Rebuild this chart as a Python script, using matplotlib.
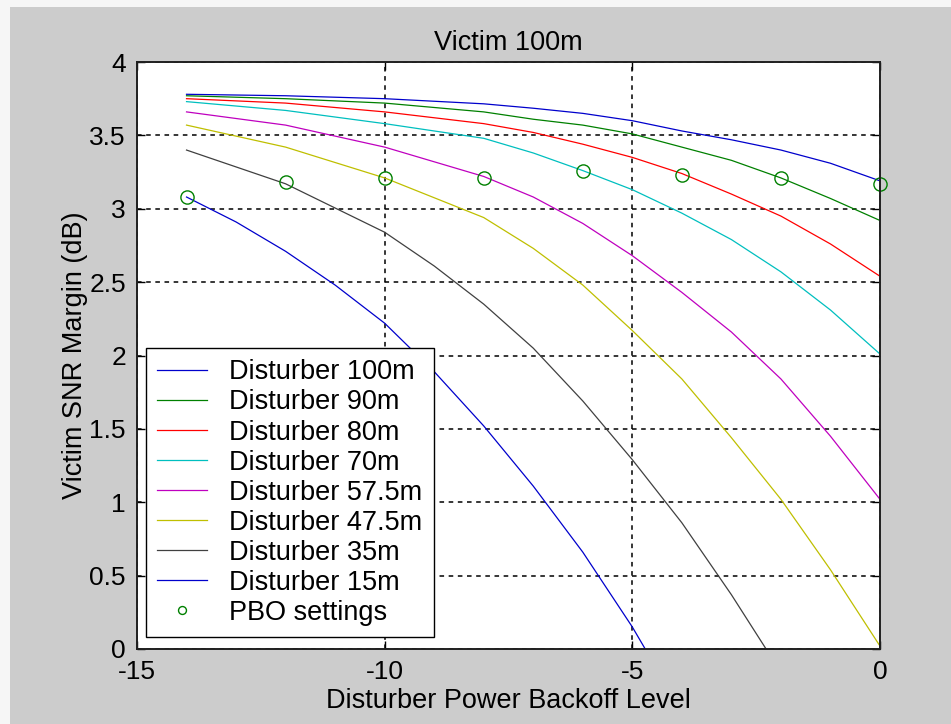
import matplotlib
matplotlib.use("Agg")
import matplotlib.pyplot as plt
from matplotlib.patches import Rectangle

plt.rcParams['font.family'] = ['Liberation Sans', 'DejaVu Sans']
plt.rcParams['axes.unicode_minus'] = False

# values
x_full = [-14, -12, -10, -8, -7, -6, -5, -4, -3, -2, -1, 0]
d100 = [3.78, 3.77, 3.75, 3.715, 3.685, 3.65, 3.60, 3.53, 3.47, 3.40, 3.31, 3.19]
d90 = [3.77, 3.75, 3.72, 3.66, 3.61, 3.57, 3.51, 3.42, 3.33, 3.21, 3.07, 2.92]
d80 = [3.75, 3.72, 3.66, 3.58, 3.52, 3.44, 3.35, 3.24, 3.10, 2.95, 2.76, 2.54]
d70 = [3.73, 3.67, 3.58, 3.48, 3.38, 3.26, 3.13, 2.97, 2.79, 2.57, 2.31, 2.01]
d575 = [3.66, 3.57, 3.42, 3.22, 3.08, 2.90, 2.68, 2.43, 2.16, 1.84, 1.45, 1.02]
d475 = [3.57, 3.42, 3.21, 2.94, 2.73, 2.48, 2.17, 1.84, 1.44, 1.02, 0.54, 0.02]

x_35 = [-14, -12, -10, -9, -8, -7, -6, -5, -4, -3, -2.3]
d35 = [3.40, 3.17, 2.84, 2.61, 2.35, 2.05, 1.69, 1.29, 0.86, 0.37, 0.0]

x_15 = [-14, -13, -12, -11, -10, -9, -8, -7, -6, -5, -4.74]
d15 = [3.08, 2.91, 2.71, 2.48, 2.22, 1.89, 1.52, 1.11, 0.66, 0.15, 0.0]

pbo_x = [-14, -12, -10, -8, -6, -4, -2, 0]
pbo_y = [3.08, 3.18, 3.21, 3.21, 3.26, 3.23, 3.21, 3.17]

fig = plt.figure(figsize=(9.51, 7.24), dpi=100)
fig.patch.set_facecolor('#f6f6f6')
fig.patches.append(Rectangle((10/951, 0), 1, 717/724, transform=fig.transFigure,
                             facecolor='#cccccc', edgecolor='none', zorder=-5))

ax = fig.add_axes([137/951, 75/724, 743/951, 587/724])
ax.set_facecolor('white')

lw = 0.9
ax.plot(x_full, d100, color='#0000cc', lw=lw, label='Disturber 100m')
ax.plot(x_full, d90, color='#008000', lw=lw, label='Disturber 90m')
ax.plot(x_full, d80, color='#ff0000', lw=lw, label='Disturber 80m')
ax.plot(x_full, d70, color='#00bfbf', lw=lw, label='Disturber 70m')
ax.plot(x_full, d575, color='#bf00bf', lw=lw, label='Disturber 57.5m')
ax.plot(x_full, d475, color='#bfbf00', lw=lw, label='Disturber 47.5m')
ax.plot(x_35, d35, color='#404040', lw=lw, label='Disturber 35m')
ax.plot(x_15, d15, color='#0000cc', lw=lw, label='Disturber 15m')
ax.plot(pbo_x, pbo_y, 'o', mfc='none', mec='#008000', ms=9.5, mew=1.0,
        label='PBO settings', clip_on=False)

ax.set_xlim(-15, 0)
ax.set_ylim(0, 4)
ax.set_xticks([-15, -10, -5, 0])
ax.set_yticks([0, 0.5, 1, 1.5, 2, 2.5, 3, 3.5, 4])
ax.set_yticklabels(['0', '0.5', '1', '1.5', '2', '2.5', '3', '3.5', '4'])

ax.grid(True, color='black', linestyle=(0, (3, 3)), linewidth=1.1)
ax.tick_params(direction='in', length=6, width=1, top=True, right=True,
               labelsize=19, pad=8)
for s in ax.spines.values():
    s.set_linewidth(1.4)
    s.set_color('#202020')

ax.set_title('Victim 100m', fontsize=19.5, pad=9)
ax.set_xlabel('Disturber Power Backoff Level', fontsize=19.5, labelpad=3)
ax.set_ylabel('Victim SNR Margin (dB)', fontsize=19.5, labelpad=1)

leg = ax.legend(loc='lower left', bbox_to_anchor=(0.012, 0.02), borderaxespad=0,
                fontsize=19.5, fancybox=False, framealpha=1, edgecolor='black',
                handlelength=1.85, handletextpad=0.8, labelspacing=0.15,
                borderpad=0.42, markerscale=0.6)
leg.get_frame().set_linewidth(1.0)

fig.savefig('out.png', dpi=100, facecolor=fig.get_facecolor())
